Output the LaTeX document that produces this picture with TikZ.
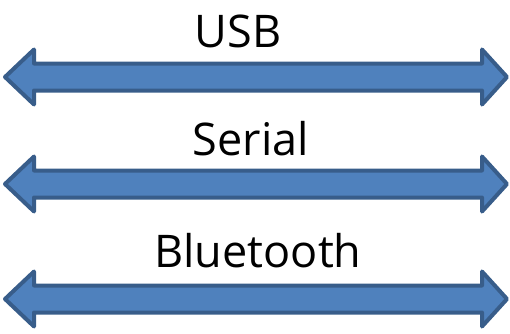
\documentclass[tikz,border=0pt]{standalone}
\usepackage{fontspec}
\setmainfont{Open Sans}
\definecolor{arrowfill}{HTML}{4F81BD}
\definecolor{arrowline}{HTML}{385D8A}
\tikzset{
  arrowstyle/.style={fill=arrowfill, draw=arrowline, line width=4pt, line join=round},
  lbl/.style={anchor=base, inner sep=0pt, font=\fontsize{45}{54}\selectfont},
  dblarrow/.pic={
    \draw[arrowstyle] (5,0) -- (34,27.5) -- (34,13.5) -- (482,13.5) -- (482,27.5)
      -- (507,0) -- (482,-27.5) -- (482,-13.5) -- (34,-13.5) -- (34,-27.5) -- cycle;
  }
}
\begin{document}
\begin{tikzpicture}[x=1pt,y=1pt]
  \useasboundingbox (0,0) rectangle (510,333);
  \pic (a1) at (0,256) {dblarrow};
  \pic (a2) at (0,149) {dblarrow};
  \pic (a3) at (0,34) {dblarrow};
  \node[lbl] (usb) at (238,286) {USB};
  \node[lbl] (serial) at (251,178) {Serial};
  \node[lbl] (bt) at (258,66) {Bluetooth};
\end{tikzpicture}
\end{document}
